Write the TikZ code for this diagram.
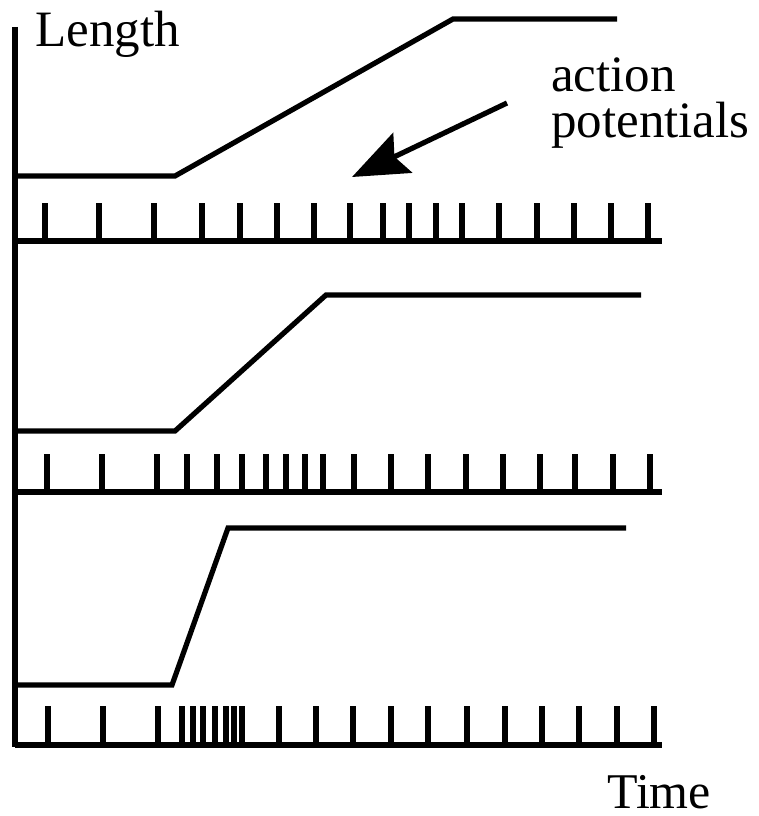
\documentclass[tikz,border=0pt]{standalone}
\usepackage{fontspec}
\setmainfont{Liberation Serif}
\usetikzlibrary{arrows.meta}
\tikzset{
  trace/.style={line width=5.2pt, line join=miter},
  spike/.style={line width=5.2pt},
  lbl/.style={font=\fontsize{51}{46}\selectfont, inner sep=0pt, anchor=base west, align=left},
  pointer/.style={line width=5.2pt, -{Stealth[length=56pt, width=44pt, inset=9pt]}}
}
\begin{document}
\begin{tikzpicture}[x=1pt, y=-1pt]
\useasboundingbox (0,0) rectangle (758,816);
% axis
\draw[trace] (15,27) -- (15,747);
% labels
\node[lbl] (length) at (35,47) {Length};
\node[lbl] (ap) at (551,137) {action\\potentials};
\node[lbl, font=\fontsize{50}{46}\selectfont, text depth=0pt] (time) at (607,808) {Time};
% arrow
\coordinate (arrS) at (507,103);
\coordinate (arrE) at (352,177);
\draw[pointer] (arrS) -- (arrE);
% length traces
\draw[trace] (15,176) -- (175,176) -- (453,19) -- (617,19);
\draw[trace] (15,431) -- (175,431) -- (326,295) -- (641,295);
\draw[trace] (15,685) -- (172,685) -- (228,528) -- (626,528);
% spike train baselines
\draw[trace] (15,241) -- (662,241);
\draw[trace] (15,492) -- (662,492);
\draw[trace] (15,745) -- (662,745);
% spikes
\foreach \x in {45,99,154,202,240,277,314,350,383,409,436,462,499,537,574,611,648}
  \draw[spike] (\x,241) -- (\x,203);
\foreach \x in {47,102,157,187,217,242,266,286,305,323,354,391,428,466,503,540,575,613,650}
  \draw[spike] (\x,492) -- (\x,454);
\foreach \x in {48,103,158,182,193,203,215,226,234,242,279,316,353,391,428,467,505,542,579,617,654}
  \draw[spike] (\x,745) -- (\x,706);
\end{tikzpicture}
\end{document}
